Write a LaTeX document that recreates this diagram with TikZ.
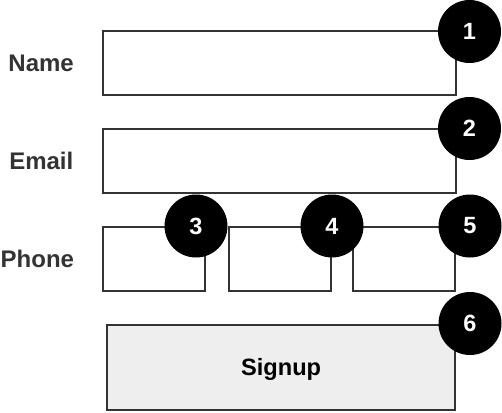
\documentclass[tikz,border=0pt]{standalone}
\usepackage{fontspec}
\setmainfont{Liberation Sans}
\definecolor{linegray}{HTML}{333333}
\definecolor{btnfill}{HTML}{EEEEEE}
\begin{document}
\begin{tikzpicture}[x=1pt,y=-1pt,
  field/.style={draw=linegray,line width=2pt,fill=white,rectangle,inner sep=0pt},
  badge/.style={circle,fill=black,text=white,minimum size=63pt,inner sep=0pt,font=\bfseries\fontsize{23.5}{23.5}\selectfont},
  lbl/.style={text=linegray,inner sep=0pt,font=\bfseries\fontsize{24}{24}\selectfont}]
\useasboundingbox (0,0) rectangle (502,412);
% labels
\node[lbl,anchor=base east] (lname) at (74,71) {Name};
\node[lbl,anchor=base east] (lemail) at (73.5,169.5) {Email};
\node[lbl,anchor=base west] (lphone) at (0.5,267) {Phone};
% fields
\node[field,minimum width=353pt,minimum height=64pt] (fname) at (279,63) {};
\node[field,minimum width=353pt,minimum height=64pt] (femail) at (279,161) {};
\node[field,minimum width=102.5pt,minimum height=64pt] (fp1) at (153.75,259) {};
\node[field,minimum width=102.3pt,minimum height=64pt] (fp2) at (279.9,259) {};
\node[field,minimum width=102pt,minimum height=64pt] (fp3) at (404,259) {};
\node[field,fill=btnfill,minimum width=347.7pt,minimum height=85pt] (signup) at (281.15,367.5) {};
\node[anchor=base,inner sep=0pt,text=black,font=\bfseries\fontsize{23.6}{23.6}\selectfont] (signuptxt) at (signup.center |- 0,375) {Signup};
% badges
\node[badge] (b1) at (469.5,31.5) {1};
\node[badge] (b2) at (469.5,128.5) {2};
\node[badge] (b3) at (196,226) {3};
\node[badge] (b4) at (332,226) {4};
\node[badge] (b5) at (470,226) {5};
\node[badge] (b6) at (470,323.5) {6};
\end{tikzpicture}
\end{document}
